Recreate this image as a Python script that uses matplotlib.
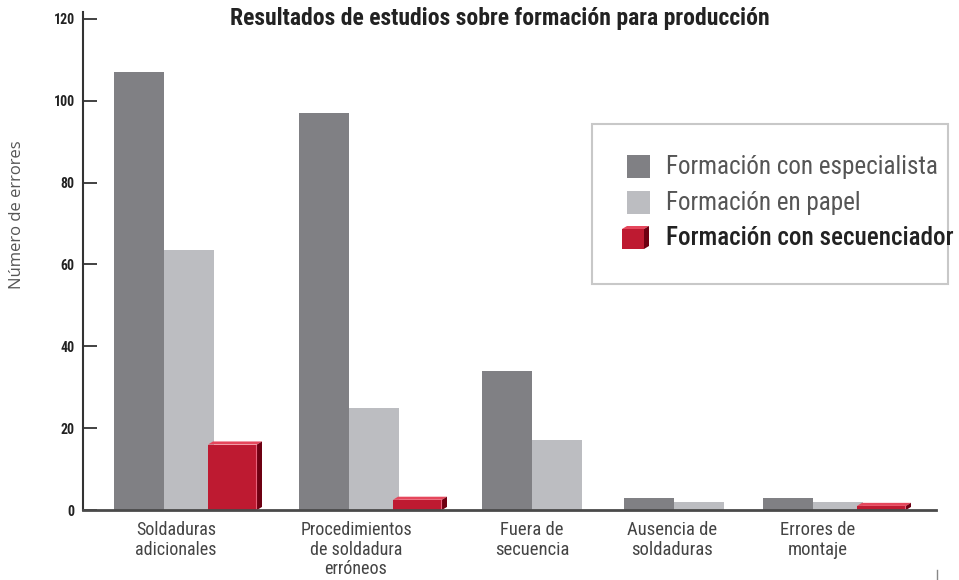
import matplotlib
matplotlib.use("Agg")
import matplotlib.pyplot as plt
from matplotlib import font_manager as fm
from matplotlib.patches import Polygon, Rectangle
from matplotlib.lines import Line2D

# pick a narrow sans if one is installed, otherwise Roboto
names = {f.name for f in fm.fontManager.ttflist}
family, stretch = "Roboto", "normal"
for cand in ["Roboto Condensed", "Liberation Sans Narrow", "Open Sans Condensed"]:
    if cand in names:
        family = cand
        break
else:
    if any(f.name == "DejaVu Sans" and f.stretch in ("condensed", "semi-condensed")
           for f in fm.fontManager.ttflist):
        family, stretch = "DejaVu Sans", "condensed"
plt.rcParams['font.family'] = [family, 'DejaVu Sans']
plt.rcParams['font.stretch'] = stretch

# data
categories = ["Soldaduras\nadicionales", "Procedimientos\nde soldadura\nerróneos",
              "Fuera de\nsecuencia", "Ausencia de\nsoldaduras", "Errores de\nmontaje"]
especialista = [107, 97, 34, 3, 3]
papel = [63.5, 25, 17, 2, 2]
secuenciador = [16, 2.5, 0, 0, 1]
series_names = ["Formación con especialista", "Formación en papel",
                "Formación con secuenciador"]
yticks = [0, 20, 40, 60, 80, 100, 120]

# layout (x in pixel-like units)
group_x = [164, 349, 532, 674, 813]
label_x = [176, 356, 532, 672, 818]
bar_w = 50
red_off, red_w = 44, 49
dx, dy = 5, 0.75

dark = "#808084"
light = "#bcbdc1"
red = "#be1a31"
red_side = "#6e0012"
red_top = "#e5475c"

fig = plt.figure(figsize=(9.59, 5.8), dpi=100)
renderer = fig.canvas.get_renderer()


def fit(txt, target_px):
    # scale font so the text is about target_px wide
    w = txt.get_window_extent(renderer).width
    txt.set_fontsize(txt.get_fontsize() * target_px / w)


ax = fig.add_axes([83 / 959, 70 / 580, (936 - 83) / 959, (510 - 12) / 580])
ax.set_xlim(83, 936)
ax.set_ylim(0, 121.7)


def red_bar(ax, x0, w, h):
    ax.add_patch(Polygon([(x0, h), (x0 + dx, h + dy), (x0 + w + dx, h + dy), (x0 + w, h)],
                         closed=True, color=red_top, lw=0, zorder=3))
    ax.add_patch(Polygon([(x0 + w, 0), (x0 + w + dx, dy), (x0 + w + dx, h + dy), (x0 + w, h)],
                         closed=True, color=red_side, lw=0, zorder=3))
    ax.add_patch(Rectangle((x0, 0), w, h, color=red, lw=0, zorder=3))
    ax.plot([x0 + w - 0.5, x0 + w - 0.5], [0, h], color="#e8607a", lw=0.8, zorder=4)


ax.bar([g - bar_w / 2 for g in group_x], especialista, width=bar_w, color=dark, zorder=2)
ax.bar([g + bar_w / 2 for g in group_x], papel, width=bar_w, color=light, zorder=2)
for g, v in zip(group_x, secuenciador):
    if v > 0:
        red_bar(ax, g + red_off, red_w, v)

for s in ["top", "right"]:
    ax.spines[s].set_visible(False)
ax.spines["left"].set_color("#333333")
ax.spines["left"].set_linewidth(1.5)
ax.spines["bottom"].set_color("#4a4a4a")
ax.spines["bottom"].set_linewidth(2)
ax.spines["bottom"].set_zorder(5)

ax.set_yticks(yticks)
ylabs = ax.set_yticklabels([str(t) for t in yticks], fontsize=10.5, fontweight="bold",
                           color="#222222")
ax.tick_params(axis="y", direction="in", length=10, width=1.3, color="#333333", pad=6)
ax.set_xticks(label_x)
xlabs = ax.set_xticklabels(categories, fontsize=12.5, color="#444444", linespacing=1.12)
ax.tick_params(axis="x", length=0, pad=8)
fig.canvas.draw()
fit(ylabs[-1], 21)
for t in ylabs:
    t.set_fontsize(ylabs[-1].get_fontsize())
w_proc = renderer.get_text_width_height_descent("Procedimientos",
                                                xlabs[1].get_fontproperties(), False)[0]
for t in xlabs:
    t.set_fontsize(xlabs[1].get_fontsize() * 112 / w_proc)

ylab = fig.text(17 / 959, 1 - 215 / 580, "Número de errores", rotation=90, ha="center",
                va="center", fontsize=11, color="#555555",
                family=["Open Sans", "DejaVu Sans"], fontweight="normal", fontstretch="normal")
h = ylab.get_window_extent(renderer).height
ylab.set_fontsize(11 * 150 / h)

title = fig.text(500 / 959, 1 - 18 / 580, "Resultados de estudios sobre formación para producción",
                 ha="center", va="center", fontsize=14.5, fontweight="bold", color="#222222")
fit(title, 540)

# legend box
fig.patches.append(Rectangle((592 / 959, 1 - 284 / 580), (948 - 592) / 959, (284 - 124) / 580,
                             transform=fig.transFigure, fill=False, edgecolor="#c8c8c8", lw=1.5))
rows = [167, 203, 238]
cols = [dark, light, None]
tcols = ["#555555", "#555555", "#222222"]
leg_texts = []
for i, (y, c) in enumerate(zip(rows, cols)):
    yy = 1 - y / 580
    if c is not None:
        fig.patches.append(Rectangle((627 / 959, yy - 11.5 / 580), 23 / 959, 23 / 580,
                                     transform=fig.transFigure, color=c, lw=0))
    else:
        x0, x1, y0, y1 = 622 / 959, 644 / 959, yy - 11 / 580, yy + 9 / 580
        ex, ey = 5 / 959, 3 / 580
        fig.patches.append(Polygon([(x0, y1), (x0 + ex, y1 + ey), (x1 + ex, y1 + ey), (x1, y1)],
                                   transform=fig.transFigure, color=red_top, lw=0))
        fig.patches.append(Polygon([(x1, y0), (x1 + ex, y0 + ey), (x1 + ex, y1 + ey), (x1, y1)],
                                   transform=fig.transFigure, color=red_side, lw=0))
        fig.patches.append(Rectangle((x0, y0), x1 - x0, y1 - y0, transform=fig.transFigure,
                                     color=red, lw=0))
    leg_texts.append(fig.text(666 / 959, yy, series_names[i], ha="left", va="center",
                              fontsize=15.5, color=tcols[i],
                              fontweight="medium" if i == 2 else "normal"))
fit(leg_texts[0], 271)
for t in leg_texts[1:]:
    t.set_fontsize(leg_texts[0].get_fontsize())

fig.lines.append(Line2D([937 / 959, 937 / 959], [0, 10 / 580], transform=fig.transFigure,
                        color="#888888", lw=1))

fig.savefig("out.png", dpi=100)
